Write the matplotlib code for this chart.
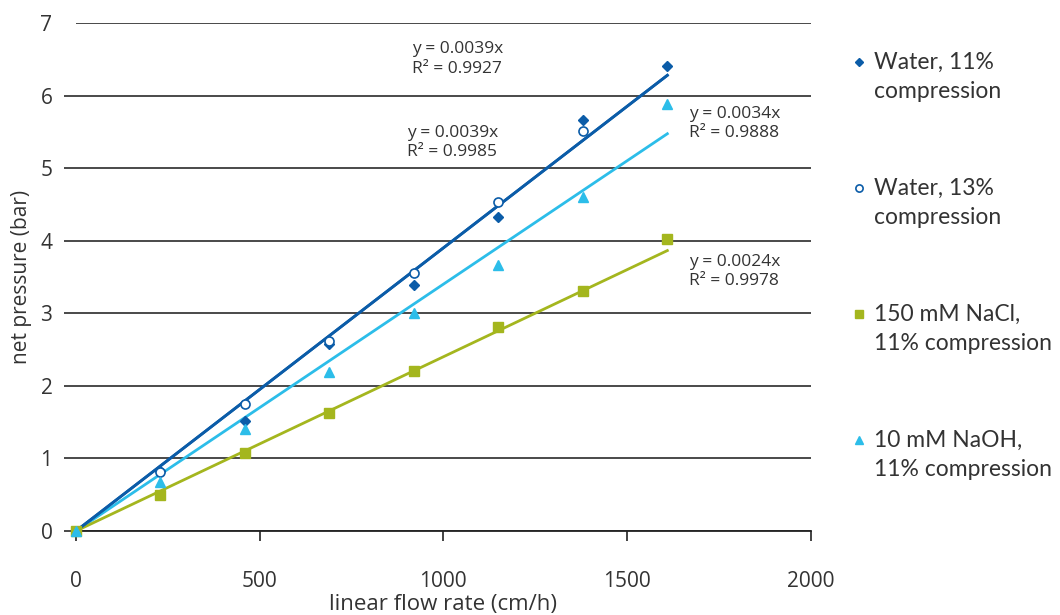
import matplotlib
matplotlib.use('Agg')
import matplotlib.pyplot as plt
import numpy as np

plt.rcParams['font.family'] = ['Open Sans', 'DejaVu Sans']

flow = [0, 230, 460, 690, 920, 1150, 1380, 1610]
flow_w13 = [0, 230, 460, 690, 920, 1150, 1380]
water11 = [0, 0.83, 1.52, 2.57, 3.39, 4.33, 5.67, 6.41]
water13 = [0, 0.81, 1.75, 2.62, 3.55, 4.53, 5.51]
nacl = [0, 0.49, 1.07, 1.62, 2.21, 2.81, 3.31, 4.02]
naoh = [0, 0.68, 1.41, 2.19, 3.01, 3.66, 4.60, 5.88]

slopes = [0.0039, 0.0039, 0.0024, 0.0034]
r2 = [0.9927, 0.9985, 0.9978, 0.9888]
labels = ['Water, 11%\ncompression', 'Water, 13%\ncompression',
          '150 mM NaCl,\n11% compression', '10 mM NaOH,\n11% compression']

dark = '#0b5ca8'
cyan = '#2cbde9'
green = '#a4b61e'
txt = '#333333'

fig = plt.figure(figsize=(10.6, 6.15), dpi=100)
ax = fig.add_axes([0.0717, 0.1366, 0.693, 0.826])

xfit = np.array([0, flow[-1]])
# trend lines
ax.plot(xfit, slopes[3] * xfit, color=cyan, lw=2, zorder=2)
ax.plot(xfit, slopes[2] * xfit, color=green, lw=2, zorder=2)
ax.plot(xfit, slopes[1] * xfit, color=dark, lw=2, zorder=2)
ax.plot(xfit, slopes[0] * xfit, color=dark, lw=2, zorder=2)

# points
styles = [dict(marker='D', color=dark, ms=5.5),
          dict(marker='o', mfc='white', mec=dark, mew=1.2, ms=6.5),
          dict(marker='s', color=green, ms=6.5),
          dict(marker='^', color=cyan, ms=7)]
series = [(flow, water11), (flow_w13, water13), (flow, nacl), (flow, naoh)]
for (xs, ys), st in zip(series, styles):
    ax.plot(xs, ys, ls='none', zorder=3, clip_on=False, **st)

ax.set_xlim(0, 2000)
ax.set_ylim(0, 7)
ax.set_xticks([0, 500, 1000, 1500, 2000])
ax.set_yticks(range(0, 8))
ax.yaxis.grid(True, color='#3a3a3a', lw=1.3)
ax.set_axisbelow(True)
for s in ['top', 'right', 'left']:
    ax.spines[s].set_visible(False)
ax.spines['bottom'].set_color('#222222')
ax.spines['bottom'].set_linewidth(1.3)
ax.tick_params(axis='x', length=7, width=1.2, color='#222222', pad=22,
               labelsize=15, labelcolor=txt)
ax.tick_params(axis='y', length=9, width=1.3, color='#3a3a3a', pad=8,
               labelsize=15, labelcolor=txt)
ax.yaxis.get_major_ticks()[-1].tick1line.set_visible(False)

ax.set_xlabel('linear flow rate (cm/h)', fontsize=16, color=txt, labelpad=1)
ax.set_ylabel('net pressure (bar)', fontsize=15, color=txt, labelpad=6)

# trendline equations
eq_pos = [(914, 6.75), (900, 5.6), (1670, 3.82), (1670, 5.86)]
for (px, py), s, r in zip(eq_pos, slopes, r2):
    ax.text(px, py, f'y = {s:.4f}x\nR\u00b2 = {r:.4f}', fontsize=12.5, color=txt,
            va='top', ha='left', linespacing=1.3)

# legend, marker beside the first line of each label
for i, (lab, st) in enumerate(zip(labels, styles)):
    yy = 0.923 - i * 0.248
    st_leg = dict(st)
    st_leg['ms'] = st['ms'] * 0.8
    ax.plot([1.066], [yy], transform=ax.transAxes, clip_on=False, ls='none', **st_leg)
    ax.text(1.087, yy + 0.02, lab, transform=ax.transAxes, fontsize=16.5,
            color=txt, va='top', ha='left', linespacing=1.45,
            family=['Lato', 'DejaVu Sans'])

fig.savefig('out.png', dpi=100)
